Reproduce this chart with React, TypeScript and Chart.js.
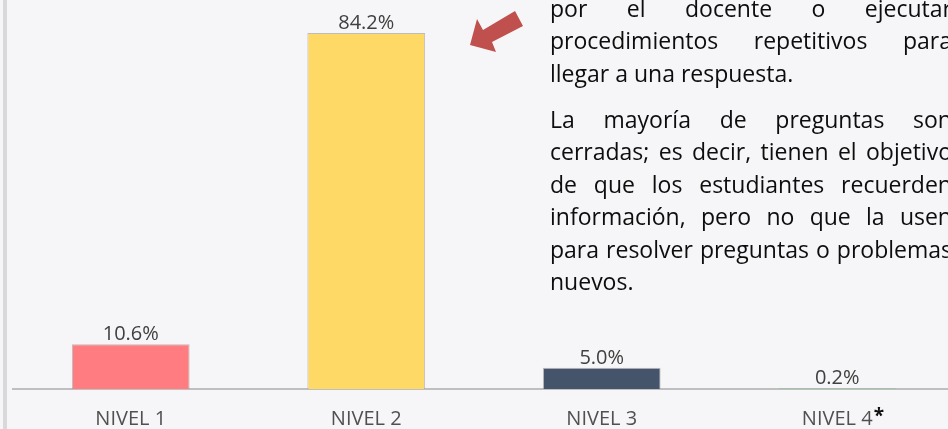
import React, { useEffect, useRef } from "react";
import { Chart, registerables } from "chart.js";

Chart.register(...registerables);

const categories = ["NIVEL 1", "NIVEL 2", "NIVEL 3", "NIVEL 4"];
const categoryMarks = ["", "", "", "*"];
const values = [10.6, 84.2, 5.0, 0.2];
const valueLabels = ["10.6%", "84.2%", "5.0%", "0.2%"];
const barColors = ["#ff7c80", "#ffd966", "#44546a", "#7fc194"];
const barBorders = ["rgba(140,140,140,0.55)", "rgba(140,140,140,0.55)", "rgba(140,140,140,0.55)", "#8cc7a0"];
const yMax = 92;

const paragraph1 = [
  "por el docente o ejecutar",
  "procedimientos repetitivos para",
  "llegar a una respuesta.",
];
const paragraph2 = [
  "La mayoría de preguntas son",
  "cerradas; es decir, tienen el objetivo",
  "de que los estudiantes recuerden",
  "información, pero no que la usen",
  "para resolver preguntas o problemas",
  "nuevos.",
];

const BG = "#f6f6f8";
const TICK_FONT = { family: "'Open Sans', sans-serif", size: 20 };

const valueLabelPlugin = {
  id: "valueLabels",
  afterDatasetsDraw(chart: any) {
    const ctx = chart.ctx;
    const meta = chart.getDatasetMeta(0);
    ctx.save();
    ctx.font = `${TICK_FONT.size}px ${TICK_FONT.family}`;
    ctx.fillStyle = "#404040";
    ctx.textAlign = "center";
    ctx.textBaseline = "alphabetic";
    meta.data.forEach((bar: any, i: number) => {
      ctx.fillText(valueLabels[i], bar.x, bar.y - 4);
    });
    ctx.restore();
  },
};

const markPlugin = {
  id: "categoryMarks",
  afterDraw(chart: any) {
    const ctx = chart.ctx;
    const xs = chart.scales.x;
    ctx.save();
    categoryMarks.forEach((m, i) => {
      if (!m) return;
      ctx.font = `${TICK_FONT.size}px ${TICK_FONT.family}`;
      const w = ctx.measureText(categories[i]).width;
      const px = xs.getPixelForTick(i);
      ctx.font = `bold 19px ${TICK_FONT.family}`;
      ctx.fillStyle = "#111";
      ctx.textAlign = "left";
      ctx.textBaseline = "alphabetic";
      ctx.fillText(m, px + w / 2 + 1, xs.top + 33);
    });
    ctx.restore();
  },
};

function TextLine({ text, justify }: { text: string; justify: boolean }) {
  const words = text.split(" ");
  return (
    <div
      style={{
        height: 32.5,
        lineHeight: "32.5px",
        display: "flex",
        justifyContent: justify ? "space-between" : "flex-start",
        whiteSpace: "pre",
      }}
    >
      {justify ? words.map((w, i) => <span key={i}>{w}</span>) : <span>{text}</span>}
    </div>
  );
}

function Paragraph({ lines, top }: { lines: string[]; top: number }) {
  return (
    <div
      style={{
        position: "absolute",
        left: 550,
        top,
        width: 402,
        fontFamily: "'Open Sans', sans-serif",
        fontSize: 23,
        color: "#0d0d0d",
      }}
    >
      {lines.map((l, i) => (
        <TextLine key={i} text={l} justify={i < lines.length - 1} />
      ))}
    </div>
  );
}

export default function App() {
  const canvasRef = useRef<HTMLCanvasElement>(null);

  useEffect(() => {
    if (!canvasRef.current) return;
    const chart = new Chart(canvasRef.current, {
      type: "bar",
      data: {
        labels: categories,
        datasets: [
          {
            data: values,
            backgroundColor: barColors,
            borderColor: barBorders,
            borderWidth: 1,
            barPercentage: 0.5,
            categoryPercentage: 1,
          },
        ],
      },
      options: {
        animation: false,
        responsive: false,
        maintainAspectRatio: false,
        layout: { padding: { top: 0, left: 13, right: 15, bottom: 0 } },
        plugins: { legend: { display: false }, tooltip: { enabled: false } },
        scales: {
          x: {
            grid: { display: false, drawTicks: false },
            border: { display: true, color: "#bfbfbf", width: 2 },
            ticks: { color: "#505050", font: TICK_FONT, padding: 18 },
            afterFit: (s: any) => {
              s.height = 40;
            },
          },
          y: { display: false, min: 0, max: yMax },
        },
      },
      plugins: [valueLabelPlugin, markPlugin],
    });
    return () => chart.destroy();
  }, []);

  return (
    <div
      style={{
        position: "fixed",
        left: 0,
        top: 0,
        width: 948,
        height: 429,
        overflow: "hidden",
        background: BG,
      }}
    >
      <div style={{ position: "absolute", left: 3, top: 0, width: 4, height: 429, background: "#d9d9d9" }} />
      <canvas
        ref={canvasRef}
        width={970}
        height={429}
        style={{ position: "absolute", left: 0, top: 0, width: 970, height: 429 }}
      />
      <svg width={948} height={429} style={{ position: "absolute", left: 0, top: 0 }}>
        <polygon points="470,45 477,19 483,30 515,11 523,26 492,42 496,52" fill="#c0504d" />
      </svg>
      <Paragraph lines={paragraph1} top={-8.2} />
      <Paragraph lines={paragraph2} top={102.8} />
    </div>
  );
}
